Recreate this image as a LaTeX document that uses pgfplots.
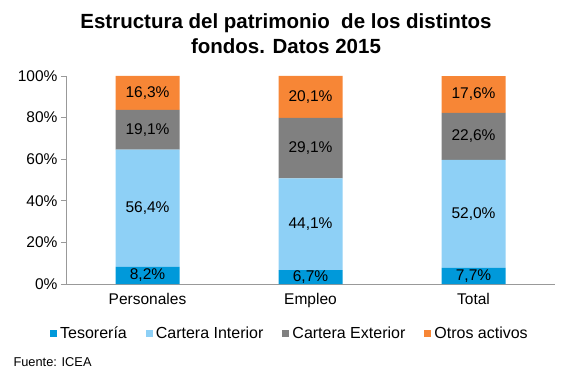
\documentclass[border=0pt]{standalone}
\usepackage{pgfplots}
\pgfplotsset{compat=1.18}
\usepackage{fontspec}
\setmainfont{Liberation Sans}
\definecolor{tes}{RGB}{0,153,218}
\definecolor{cint}{RGB}{142,208,246}
\definecolor{cext}{RGB}{128,128,128}
\definecolor{otr}{RGB}{247,134,54}
\begin{document}
\begin{tikzpicture}[x=1pt,y=1pt]
\path[use as bounding box] (0,0) rectangle (567,378);
\begin{axis}[
  at={(66pt,94pt)}, anchor=south west,
  scale only axis, width=489pt, height=208pt,
  ybar stacked, bar width=64pt,
  xmin=-0.5, xmax=2.5, ymin=0, ymax=100,
  xtick={0,1,2}, xticklabels={Personales,Empleo,Total},
  extra x ticks={-0.5,0.5,1.5,2.5}, extra x tick labels={},
  extra x tick style={major tick length=4pt, tick style={draw=gray!80}, tick align=outside},
  xtick style={draw=none},
  ytick={0,20,40,60,80,100},
  yticklabel={\pgfmathprintnumber{\tick}\%},
  /pgf/number format/assume math mode=true,
  axis x line*=bottom, axis y line*=left,
  axis line style={draw=gray!80, line width=0.8pt},
  ytick style={draw=gray!80, line width=0.8pt}, tick align=outside, major tick length=5pt,
  tick label style={font=\fontsize{15.5}{18}\selectfont},
  xticklabel style={yshift=-1pt},
  point meta=explicit symbolic,
  nodes near coords,
  every node near coord/.append style={anchor=center, font=\fontsize{15.5}{18}\selectfont},
  legend style={at={(0.458,-0.236)}, anchor=center, draw=none, fill=none,
    legend columns=4, font=\fontsize{16}{18}\selectfont,
    /tikz/every odd column/.append style={column sep=1pt},
    /tikz/every even column/.append style={column sep=17pt}},
  legend cell align=left,
  legend image code/.code={\fill[#1] (0pt,-3.5pt) rectangle (7pt,3.5pt);},
  clip=false,
]
\addplot[fill=tes, draw=none] coordinates {(0,8.2) [8,2\%] (1,6.7) [6,7\%] (2,7.7) [7,7\%]};
\addplot[fill=cint, draw=none] coordinates {(0,56.4) [56,4\%] (1,44.1) [44,1\%] (2,52.0) [52,0\%]};
\addplot[fill=cext, draw=none] coordinates {(0,19.1) [19,1\%] (1,29.1) [29,1\%] (2,22.6) [22,6\%]};
\addplot[fill=otr, draw=none] coordinates {(0,16.3) [16,3\%] (1,20.1) [20,1\%] (2,17.6) [17,6\%]};
\legend{Tesorería,Cartera Interior,Cartera Exterior,Otros activos}
\end{axis}
\node[font=\bfseries\fontsize{20.5}{25}\selectfont, align=center] at (286,344) {Estructura del patrimonio\ \ de los distintos\\fondos. Datos 2015};
\node[font=\fontsize{12.8}{14}\selectfont, anchor=west] at (10,16) {Fuente: ICEA};
\end{tikzpicture}
\end{document}
